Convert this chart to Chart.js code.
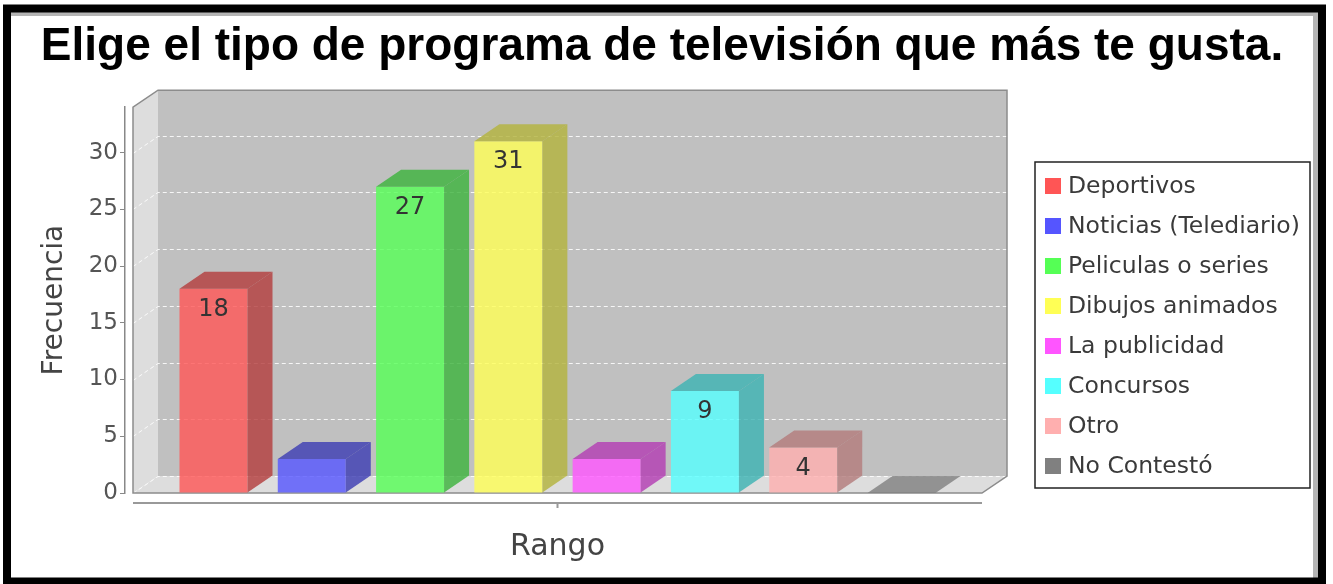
<!DOCTYPE html>
<html>
<head>
<meta charset="utf-8">
<script src="https://cdn.jsdelivr.net/npm/chart.js@4"></script>
<style>
  html, body { margin: 0; padding: 0; background: #fff; }
  #wrap { width: 1333px; height: 584px; position: relative; }
</style>
</head>
<body>
<div id="wrap"><canvas id="myChart" width="1333" height="584"></canvas></div>
<script>
const categorias = [''];
const series = ['Deportivos', 'Noticias (Telediario)', 'Peliculas o series', 'Dibujos animados',
                'La publicidad', 'Concursos', 'Otro', 'No Contestó'];
const valores = [18, 3, 27, 31, 3, 9, 4, 0];
const colores = ['#ff5555', '#5555ff', '#55ff55', '#ffff55', '#ff55ff', '#55ffff', '#ffafaf', '#808080'];
const ticksY = [0, 5, 10, 15, 20, 25, 30];

// 3D depth of the plot
const DX = 25, DY = -17;

function rgb(hex) {
  const n = parseInt(hex.slice(1), 16);
  return [(n >> 16) & 255, (n >> 8) & 255, n & 255];
}
function rgba(hex, a, k) {
  const c = rgb(hex).map(v => Math.round(v * (k || 1)));
  return 'rgba(' + c[0] + ',' + c[1] + ',' + c[2] + ',' + a + ')';
}

const plot3d = {
  id: 'plot3d',
  beforeDraw(chart) {
    const ctx = chart.ctx;
    ctx.save();
    ctx.fillStyle = '#fff';
    ctx.fillRect(0, 0, chart.width, chart.height);
    ctx.restore();
  },
  beforeDatasetsDraw(chart) {
    const ctx = chart.ctx;
    const a = chart.chartArea;
    const y = chart.scales.y;
    const l = a.left + 8, r = a.right - 8, t = a.top, b = a.bottom;
    ctx.save();
    // left wall
    ctx.fillStyle = '#dddddd';
    ctx.beginPath();
    ctx.moveTo(l, t); ctx.lineTo(l + DX, t + DY); ctx.lineTo(l + DX, b + DY); ctx.lineTo(l, b);
    ctx.closePath(); ctx.fill();
    // floor
    ctx.beginPath();
    ctx.moveTo(l, b); ctx.lineTo(l + DX, b + DY); ctx.lineTo(r + DX, b + DY); ctx.lineTo(r, b);
    ctx.closePath(); ctx.fill();
    // back wall
    ctx.fillStyle = '#c0c0c0';
    ctx.fillRect(l + DX, t + DY, r - l, b - t);
    // grid lines
    ctx.strokeStyle = 'rgba(255,255,255,0.85)';
    ctx.lineWidth = 1;
    ctx.setLineDash([4, 3]);
    ticksY.forEach(v => {
      const py = Math.round(y.getPixelForValue(v)) + 0.5;
      ctx.beginPath();
      ctx.moveTo(l, py); ctx.lineTo(l + DX, py + DY); ctx.lineTo(r + DX, py + DY);
      ctx.stroke();
    });
    ctx.setLineDash([]);
    // outline
    ctx.strokeStyle = '#8c8c8c';
    ctx.lineWidth = 1.5;
    ctx.beginPath();
    ctx.moveTo(l, b); ctx.lineTo(l, t); ctx.lineTo(l + DX, t + DY); ctx.lineTo(r + DX, t + DY);
    ctx.lineTo(r + DX, b + DY); ctx.lineTo(r, b); ctx.closePath();
    ctx.stroke();
    ctx.restore();
  },
  afterDatasetsDraw(chart) {
    const ctx = chart.ctx;
    ctx.save();
    chart.data.datasets.forEach((ds, i) => {
      const bar = chart.getDatasetMeta(i).data[0];
      const p = bar.getProps(['x', 'y', 'base', 'width']);
      const x1 = p.x - p.width / 2, x2 = p.x + p.width / 2;
      const flat = p.base - p.y < 1;
      ctx.fillStyle = flat ? rgba(colores[i], 0.8) : rgba(colores[i], 0.8, 0.7);
      // top
      ctx.beginPath();
      ctx.moveTo(x1, p.y); ctx.lineTo(x2, p.y); ctx.lineTo(x2 + DX, p.y + DY); ctx.lineTo(x1 + DX, p.y + DY);
      ctx.closePath(); ctx.fill();
      // side
      if (!flat) {
        ctx.beginPath();
        ctx.moveTo(x2, p.y); ctx.lineTo(x2 + DX, p.y + DY); ctx.lineTo(x2 + DX, p.base + DY); ctx.lineTo(x2, p.base);
        ctx.closePath(); ctx.fill();
      }
      // value label
      if (valores[i] >= 4) {
        ctx.fillStyle = '#333';
        ctx.font = '24px "DejaVu Sans"';
        ctx.textAlign = 'center';
        ctx.textBaseline = 'middle';
        ctx.fillText(String(valores[i]), p.x, p.y + 21);
      }
    });
    ctx.restore();
  },
  afterDraw(chart) {
    const ctx = chart.ctx;
    const a = chart.chartArea;
    const l = a.left + 8, r = a.right - 8;
    ctx.save();
    // category axis
    ctx.strokeStyle = '#999';
    ctx.lineWidth = 2;
    ctx.beginPath();
    ctx.moveTo(l, a.bottom + 10); ctx.lineTo(r, a.bottom + 10);
    const cx = chart.scales.x.getPixelForValue(0);
    ctx.moveTo(cx, a.bottom + 10); ctx.lineTo(cx, a.bottom + 15);
    ctx.stroke();

    // legend
    const lx = 1035, ly = 162, lw = 275, lh = 326;
    ctx.fillStyle = '#fff';
    ctx.fillRect(lx, ly, lw, lh);
    ctx.strokeStyle = '#222';
    ctx.lineWidth = 1.5;
    ctx.strokeRect(lx, ly, lw, lh);
    ctx.font = '23.5px "DejaVu Sans"';
    ctx.textBaseline = 'middle';
    ctx.textAlign = 'left';
    series.forEach((s, i) => {
      const cy = ly + 24 + i * 40;
      ctx.fillStyle = colores[i];
      ctx.fillRect(lx + 10, cy - 8, 16, 16);
      ctx.fillStyle = '#3a3a3a';
      ctx.fillText(s, lx + 33, cy + 1);
    });

    // frame
    ctx.fillStyle = '#b4b4b4';
    ctx.fillRect(11, 12, 1307, 4);
    ctx.fillRect(1313, 12, 5, 566);
    ctx.strokeStyle = '#000';
    ctx.lineWidth = 8;
    ctx.strokeRect(7, 8.5, 1315, 573);
    ctx.restore();
  }
};

const ctx = document.getElementById('myChart').getContext('2d');
const chart = new Chart(ctx, {
  type: 'bar',
  data: {
    labels: categorias,
    datasets: series.map((s, i) => ({
      label: s,
      data: [valores[i]],
      backgroundColor: rgba(colores[i], 0.8),
      borderWidth: 0
    }))
  },
  options: {
    responsive: false,
    animation: false,
    categoryPercentage: 0.909,
    barPercentage: 0.692,
    layout: { padding: { top: 12, right: 9, bottom: 0, left: 0 } },
    plugins: {
      legend: { display: false },
      tooltip: { enabled: false },
      title: {
        display: true,
        text: 'Elige el tipo de programa de televisión que más te gusta.',
        color: '#000',
        font: { family: "'Liberation Sans', Arial, sans-serif", weight: 'bold', size: 46, lineHeight: 1.2 },
        padding: { top: 8, bottom: 32 }
      }
    },
    scales: {
      x: {
        grid: { display: false },
        border: { display: false },
        ticks: { display: false },
        title: {
          display: true,
          text: 'Rango',
          color: '#444',
          font: { family: "'DejaVu Sans'", size: 30 },
          padding: { top: 0, bottom: 19 }
        },
        afterFit(scale) { scale.height = 91; }
      },
      y: {
        min: 0,
        max: 34,
        ticks: {
          stepSize: 5,
          padding: 2,
          color: '#555',
          font: { family: "'DejaVu Sans'", size: 23 }
        },
        afterBuildTicks(scale) {
          scale.ticks = ticksY.map(v => ({ value: v }));
        },
        grid: { drawOnChartArea: false, tickLength: 5, color: '#888' },
        border: { display: true, color: '#888', width: 1.5 },
        title: {
          display: true,
          text: 'Frecuencia',
          color: '#444',
          font: { family: "'DejaVu Sans'", size: 28 },
          padding: { top: 38, bottom: 0 }
        },
        afterFit(scale) { scale.width = 125; }
      },
      // empty right-hand box keeping room for the legend
      side: {
        position: 'right',
        min: 0,
        max: 1,
        ticks: { display: false },
        grid: { display: false },
        border: { display: false },
        afterFit(scale) { scale.width = 334; }
      }
    }
  },
  plugins: [plot3d]
});
</script>
</body>
</html>
